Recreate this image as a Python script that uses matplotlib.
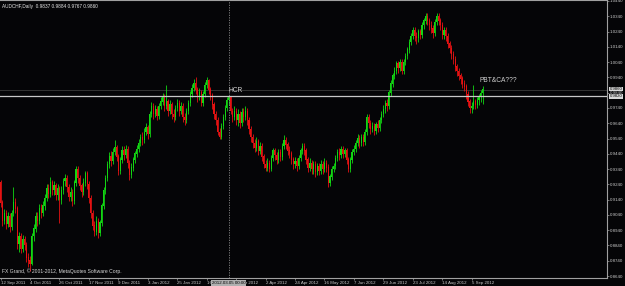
import matplotlib
matplotlib.use("Agg")
import matplotlib.pyplot as plt
import numpy as np

plt.rcParams["font.family"] = ["Liberation Sans", "DejaVu Sans"]

# ---------------- data (AUDCHF daily) ----------------
first_open = 0.925
closes = [0.912,0.900,0.905,0.898,0.903,0.896,0.905,0.912,0.908,0.885,
          0.890,0.882,0.888,0.884,0.876,0.874,0.872,0.890,0.895,0.903,
          0.900,0.908,0.905,0.910,0.915,0.921,0.918,0.925,0.920,0.923,
          0.917,0.921,0.914,0.920,0.926,0.928,0.922,0.916,0.919,0.913,
          0.925,0.934,0.928,0.923,0.919,0.925,0.931,0.924,0.915,0.905,
          0.897,0.893,0.900,0.892,0.899,0.910,0.920,0.928,0.937,0.942,
          0.939,0.945,0.948,0.942,0.933,0.940,0.946,0.943,0.947,0.938,
          0.930,0.935,0.940,0.944,0.947,0.951,0.955,0.953,0.958,0.961,
          0.957,0.970,0.975,0.970,0.973,0.969,0.975,0.978,0.981,0.975,
          0.978,0.972,0.976,0.970,0.968,0.974,0.977,0.972,0.975,0.968,
          0.966,0.972,0.977,0.983,0.987,0.990,0.986,0.981,0.984,0.977,
          0.983,0.989,0.992,0.986,0.982,0.976,0.970,0.966,0.958,0.955,
          0.962,0.968,0.974,0.979,0.981,0.972,0.968,0.972,0.966,0.970,
          0.964,0.971,0.968,0.972,0.966,0.960,0.955,0.951,0.948,0.952,
          0.946,0.949,0.942,0.937,0.935,0.938,0.934,0.941,0.946,0.943,
          0.940,0.945,0.942,0.949,0.953,0.950,0.946,0.944,0.940,0.937,
          0.939,0.936,0.941,0.946,0.949,0.946,0.940,0.935,0.938,0.934,
          0.937,0.932,0.936,0.933,0.937,0.934,0.938,0.935,0.925,0.929,
          0.934,0.936,0.941,0.945,0.943,0.947,0.944,0.946,0.940,0.934,
          0.940,0.945,0.947,0.951,0.954,0.951,0.955,0.952,0.958,0.968,
          0.964,0.960,0.962,0.959,0.963,0.961,0.966,0.970,0.973,0.977,
          0.975,0.984,0.990,0.995,0.998,1.003,1.000,1.004,0.998,1.004,
          1.008,1.012,1.017,1.021,1.025,1.021,1.020,1.024,1.022,1.028,
          1.031,1.034,1.031,1.028,1.026,1.023,1.030,1.034,1.031,1.028,
          1.022,1.025,1.021,1.016,1.013,1.009,1.006,1.001,0.998,0.995,
          0.993,0.990,0.988,0.983,0.978,0.974,0.975,0.978,0.976,0.979,
          0.981,0.9837,0.9860]
highs = [0.927,0.914,0.908,0.907,0.906,0.905,0.907,0.922,0.915,0.910,
         0.893,0.892,0.891,0.890,0.886,0.879,0.877,0.892,0.898,0.906,
         0.906,0.911,0.911,0.913,0.918,0.924,0.924,0.929,0.927,0.926,
         0.925,0.924,0.923,0.923,0.928,0.931,0.930,0.924,0.922,0.921,
         0.927,0.936,0.936,0.930,0.925,0.928,0.933,0.933,0.926,0.917,
         0.907,0.900,0.903,0.902,0.901,0.912,0.922,0.930,0.939,0.945,
         0.946,0.948,0.953,0.950,0.944,0.942,0.949,0.949,0.950,0.949,
         0.940,0.938,0.942,0.946,0.950,0.954,0.957,0.958,0.961,0.964,
         0.963,0.972,0.978,0.977,0.976,0.975,0.977,0.981,0.984,0.983,
         0.989,0.980,0.979,0.978,0.973,0.976,0.980,0.979,0.978,0.977,
         0.971,0.974,0.979,0.985,0.990,0.993,0.994,0.988,0.987,0.986,
         0.985,0.991,0.994,0.993,0.988,0.984,0.978,0.972,0.968,0.961,
         0.964,0.970,0.976,0.981,0.9825,0.982,0.974,0.975,0.974,0.973,
         0.972,0.974,0.974,0.975,0.974,0.968,0.962,0.957,0.954,0.955,
         0.954,0.952,0.951,0.944,0.940,0.941,0.940,0.943,0.948,0.948,
         0.945,0.947,0.947,0.951,0.956,0.955,0.952,0.949,0.946,0.942,
         0.942,0.941,0.943,0.948,0.951,0.951,0.948,0.942,0.941,0.940,
         0.939,0.939,0.938,0.938,0.940,0.939,0.941,0.940,0.937,0.931,
         0.936,0.938,0.943,0.947,0.948,0.949,0.949,0.948,0.948,0.942,
         0.942,0.947,0.950,0.953,0.957,0.956,0.957,0.957,0.960,0.970,
         0.970,0.966,0.965,0.964,0.965,0.966,0.968,0.972,0.976,0.979,
         0.980,0.986,0.992,0.997,1.001,1.005,1.005,1.006,1.006,1.006,
         1.010,1.014,1.019,1.023,1.027,1.027,1.024,1.026,1.026,1.030,
         1.033,1.036,1.036,1.033,1.031,1.028,1.032,1.036,1.036,1.033,
         1.030,1.027,1.027,1.023,1.018,1.015,1.011,1.008,1.003,1.000,
         0.997,0.995,0.992,0.990,0.985,0.980,0.978,0.989,0.980,0.981,
         0.983,0.986,0.9884]
lows = [0.909,0.897,0.898,0.895,0.896,0.893,0.894,0.903,0.905,0.882,
        0.880,0.879,0.880,0.881,0.873,0.870,0.867,0.871,0.887,0.893,
        0.897,0.898,0.902,0.903,0.907,0.913,0.915,0.916,0.917,0.917,
        0.914,0.914,0.899,0.911,0.918,0.923,0.919,0.913,0.913,0.910,
        0.911,0.923,0.925,0.920,0.916,0.917,0.923,0.921,0.912,0.902,
        0.894,0.890,0.891,0.889,0.890,0.897,0.908,0.918,0.926,0.935,
        0.936,0.937,0.943,0.939,0.930,0.931,0.938,0.940,0.941,0.935,
        0.927,0.928,0.933,0.938,0.942,0.945,0.949,0.950,0.951,0.956,
        0.954,0.955,0.968,0.967,0.968,0.966,0.967,0.973,0.976,0.972,
        0.973,0.969,0.970,0.967,0.965,0.966,0.972,0.969,0.970,0.965,
        0.963,0.964,0.970,0.975,0.981,0.985,0.983,0.978,0.979,0.975,
        0.975,0.981,0.987,0.983,0.979,0.973,0.967,0.963,0.956,0.9535,
        0.954,0.960,0.966,0.972,0.976,0.970,0.965,0.966,0.963,0.962,
        0.961,0.962,0.965,0.966,0.963,0.957,0.952,0.948,0.945,0.946,
        0.943,0.944,0.939,0.935,0.933,0.933,0.932,0.933,0.939,0.940,
        0.937,0.938,0.939,0.940,0.947,0.947,0.943,0.941,0.937,0.934,
        0.935,0.933,0.934,0.939,0.944,0.943,0.937,0.932,0.933,0.931,
        0.931,0.929,0.930,0.930,0.931,0.931,0.932,0.932,0.922,0.923,
        0.927,0.932,0.934,0.939,0.940,0.941,0.941,0.942,0.937,0.932,
        0.932,0.938,0.943,0.945,0.949,0.948,0.949,0.949,0.950,0.956,
        0.961,0.957,0.958,0.956,0.957,0.958,0.959,0.964,0.968,0.971,
        0.972,0.973,0.982,0.988,0.993,0.996,0.997,0.998,0.996,0.996,
        1.002,1.006,1.010,1.015,1.019,1.018,1.016,1.017,1.019,1.020,
        1.026,1.029,1.028,1.025,1.023,1.020,1.021,1.028,1.028,1.025,
        1.019,1.019,1.018,1.013,1.010,1.006,1.003,0.998,0.995,0.992,
        0.990,0.987,0.985,0.980,0.975,0.971,0.971,0.973,0.973,0.974,
        0.976,0.978,0.9767]
opens = [first_open] + closes[:-1]   # FX daily bars open at the prior close

date_labels = ["12 Sep 2011", "4 Oct 2011", "26 Oct 2011", "17 Nov 2011",
               "9 Dec 2011", "3 Jan 2012", "25 Jan 2012", "16 Feb 2012",
               "9 Mar 2012", "2 Apr 2012", "24 Apr 2012", "16 May 2012",
               "7 Jun 2012", "29 Jun 2012", "23 Jul 2012", "14 Aug 2012",
               "5 Sep 2012"]
label_step = 16
price_ticks = [1.0440, 1.0340, 1.0240, 1.0140, 1.0040, 0.9940, 0.9840, 0.9740,
               0.9640, 0.9540, 0.9440, 0.9340, 0.9240, 0.9140, 0.9040, 0.8940,
               0.8840, 0.8740, 0.8640]
hline_price = 0.9820
bid_price = 0.9860
cross_bar = 124
cross_label = "2012.03.05 00:00"
title = "AUDCHF,Daily  0.9837 0.9884 0.9767 0.9860"
footer = "FX Grand, \u00a9 2001-2012, MetaQuotes Software Corp."

# ---------------- figure ----------------
W, H = 625, 286
fig = plt.figure(figsize=(W / 100, H / 100), dpi=100)
bg = "#050507"
fig.patch.set_facecolor(bg)
ax = fig.add_axes([0, 8 / H, 607 / W, 278 / H])
ax.set_facecolor(bg)

px = 1.84  # pixels per bar
ax.set_xlim(-0.6 / px, (607 - 0.6) / px)
ax.set_ylim(1.0440 - 277 / 1528, 1.0440 + 1 / 1528)

bull, bear = "#12d612", "#e41212"
n = len(closes)
idx = np.arange(n)
o = np.array(opens); c = np.array(closes); h = np.array(highs); l = np.array(lows)
cols = [bull if c[i] >= o[i] else bear for i in range(n)]
ax.vlines(idx, l, h, colors=cols, linewidth=0.6, zorder=3)
ax.bar(idx, np.abs(c - o) + 0.0003, bottom=np.minimum(o, c), width=0.62,
       color=cols, linewidth=0, zorder=3)

# lines
ax.axhline(bid_price, color="#333333", linewidth=0.7, zorder=1)
ax.axhline(hline_price, color="#c8c8c8", linewidth=0.9, zorder=4)
ax.axvline(cross_bar, color="#8a8a8a", linewidth=0.6, linestyle=(0, (1.5, 1.5)), zorder=4)

# annotations
ax.text(cross_bar - 0.3, hline_price + 0.0012, "HCR", color="#d0d0d0",
        fontsize=4.8, ha="left", va="bottom", zorder=5)
ax.text(260.5, 0.9895, "PBT&CA???", color="#d0d0d0", fontsize=4.8,
        ha="left", va="bottom", zorder=5)

# spines
ax.spines["left"].set_visible(False)
for s in ["right", "bottom", "top"]:
    ax.spines[s].set_color("#a0a0a0")
    ax.spines[s].set_linewidth(0.8)

# price axis
ax.yaxis.tick_right()
ax.set_yticks(price_ticks)
ax.set_yticklabels([f"{p:.4f}" for p in price_ticks])
ax.tick_params(axis="y", colors="#a0a0a0", labelcolor="#c8c8c8", labelsize=3.2,
               length=1.5, width=0.5, pad=0.6)

# date axis
xt = list(range(0, label_step * len(date_labels), label_step))
ax.set_xticks(xt)
ax.set_xticklabels(date_labels)
ax.tick_params(axis="x", colors="#a0a0a0", labelcolor="#c8c8c8", labelsize=3.2,
               length=1.5, width=0.5, pad=0.8)
for t in ax.get_xticklabels():
    t.set_ha("left")

# highlighted labels
ax.text(1.004, bid_price + 0.0004, f"{bid_price:.4f}", transform=ax.get_yaxis_transform(),
        fontsize=3.1, color="#000000", ha="left", va="center",
        bbox=dict(boxstyle="square,pad=0.08", fc="#d8d8d8", ec="none"),
        zorder=6, clip_on=False)
ax.text(1.004, hline_price - 0.0004, f"{hline_price:.4f}", transform=ax.get_yaxis_transform(),
        fontsize=3.1, color="#000000", ha="left", va="center",
        bbox=dict(boxstyle="square,pad=0.08", fc="#d8d8d8", ec="none"),
        zorder=6, clip_on=False)
ax.text(cross_bar, ax.get_ylim()[0] - 0.0032, cross_label, fontsize=3.2,
        color="#000000", ha="center", va="center",
        bbox=dict(boxstyle="square,pad=0.2", fc="#b0b0b0", ec="none"),
        zorder=6, clip_on=False)

# header / footer
ax.text(0.003, 0.985, title, transform=ax.transAxes, color="#e8e8e8",
        fontsize=3.4, ha="left", va="top")
ax.text(0.003, 0.015, footer, transform=ax.transAxes, color="#d8d8d8",
        fontsize=3.6, ha="left", va="bottom")

fig.savefig("out.png", dpi=100, facecolor=bg)
